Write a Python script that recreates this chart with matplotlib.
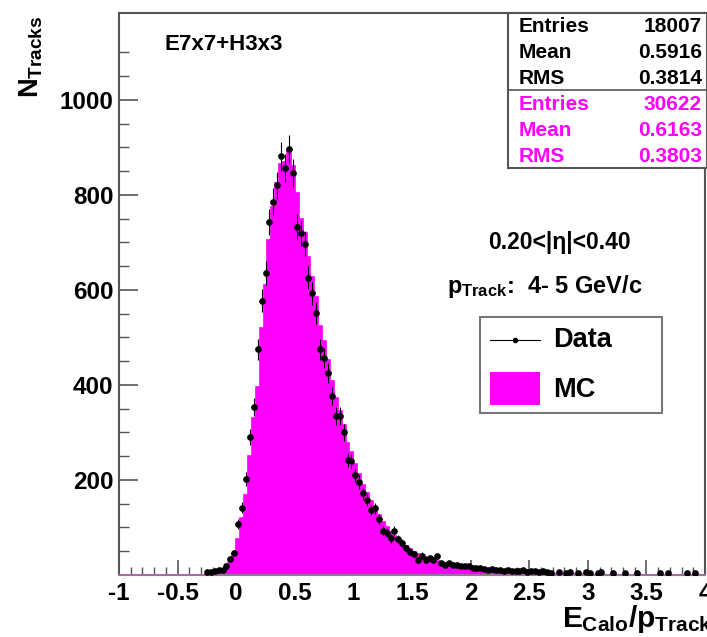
import numpy as np
import matplotlib
matplotlib.use("Agg")
import matplotlib.pyplot as plt
from matplotlib.patches import Rectangle
from matplotlib.lines import Line2D

plt.rcParams['font.family'] = ['Liberation Sans', 'DejaVu Sans']
plt.rcParams['font.weight'] = 'bold'
plt.rcParams['mathtext.fontset'] = 'custom'
plt.rcParams['mathtext.rm'] = 'Liberation Sans:bold'
plt.rcParams['mathtext.it'] = 'Liberation Sans:bold'
plt.rcParams['mathtext.bf'] = 'Liberation Sans:bold'

MAGENTA = '#ff00ff'

# E/p binning: 150 bins from -1 to 4
x_lo, x_hi, n_bins = -1.0, 4.0, 150

data_counts = [
    0, 0, 0, 0, 0, 0, 0, 0, 0, 0,
    0, 0, 0, 0, 0, 0, 0, 0, 0, 0,
    0, 0, 6, 7, 8, 10, 10, 18, 33, 46,
    107, 142, 202, 290, 353, 475, 577, 635, 744, 786,
    820, 881, 856, 896, 846, 732, 719, 697, 626, 593,
    551, 475, 457, 425, 377, 335, 335, 300, 242, 239,
    211, 196, 172, 158, 137, 140, 118, 93, 89, 77,
    93, 75, 67, 56, 49, 44, 32, 41, 32, 35,
    32, 39, 25, 22, 25, 22, 22, 18, 18, 18,
    15, 14, 14, 12, 11, 13, 10, 11, 9, 10,
    8, 9, 8, 10, 7, 9, 8, 7, 9, 6,
    5, 0, 6, 0, 5, 6, 0, 5, 0, 6,
    5, 0, 5, 6, 0, 0, 5, 0, 0, 5,
    0, 0, 5, 0, 0, 0, 0, 0, 5, 0,
    4, 0, 0, 0, 0, 4, 0, 5, 0, 0,
]

# MC scaled to the data entries
mc_counts = [
    0, 0, 0, 0, 0, 0, 0, 0, 0, 0,
    0, 0, 0, 0, 0, 0, 0, 0, 0, 0,
    0, 0, 0, 0, 2, 4, 6, 12, 25, 45,
    75, 120, 168, 250, 330, 395, 520, 610, 705, 775,
    825, 865, 870, 892, 860, 805, 750, 720, 670, 628,
    585, 525, 492, 452, 408, 372, 346, 316, 278, 258,
    234, 212, 190, 172, 155, 141, 126, 112, 100, 90,
    82, 75, 67, 61, 54, 49, 45, 41, 38, 35,
    32, 30, 27, 25, 23, 21, 20, 18, 17, 15,
    14, 13, 12, 11, 10, 9, 9, 8, 8, 7,
    7, 6, 6, 5, 5, 5, 4, 4, 4, 3,
    2, 2, 2, 2, 2, 2, 2, 2, 2, 2,
    1, 1, 1, 1, 1, 1, 1, 1, 1, 1,
    1, 1, 1, 1, 1, 1, 1, 1, 1, 1,
    1, 1, 1, 1, 1, 1, 1, 1, 1, 1,
]

stats_labels = ['Entries', 'Mean', 'RMS']
data_stats = ['18007', '0.5916', '0.3814']
mc_stats = ['30622', '0.6163', '0.3803']

W, H = 707, 637
fig = plt.figure(figsize=(W / 100, H / 100), dpi=100)


def fx(px):
    return px / W


def fy(py):
    return 1 - py / H


ax = fig.add_axes([fx(119), fy(575), fx(705) - fx(119), fy(13) - fy(575)])

edges = np.linspace(x_lo, x_hi, n_bins + 1)
centers = 0.5 * (edges[:-1] + edges[1:])
data = np.array(data_counts, dtype=float)
mc = np.array(mc_counts, dtype=float)

ax.stairs(mc, edges, fill=True, color=MAGENTA, zorder=2)
ax.stairs(mc, edges, color=MAGENTA, lw=1.2, zorder=2)

filled = data > 0
ax.errorbar(centers[filled], data[filled], yerr=np.sqrt(data[filled]),
            fmt='o', color='black', ms=3.8, elinewidth=0.8, capsize=0, zorder=3)

ax.set_xlim(x_lo, x_hi)
ax.set_ylim(0, 1183)

ax.set_xticks(np.arange(-1, 4.01, 0.5))
ax.set_xticklabels(['-1', '-0.5', '0', '0.5', '1', '1.5', '2', '2.5', '3', '3.5', '4'])
ax.set_xticks(np.arange(-1, 4.001, 0.1), minor=True)
ax.set_yticks([200, 400, 600, 800, 1000])
ax.set_yticks(np.arange(50, 1150, 50), minor=True)

ax.tick_params(axis='both', which='both', direction='in', top=False, right=False,
               colors='#555555', labelcolor='black', labelsize=17.5)
ax.tick_params(axis='x', which='major', length=11, width=1.2, pad=5)
ax.tick_params(axis='x', which='minor', length=6, width=1.0)
ax.tick_params(axis='y', which='major', length=14, width=1.2, pad=4)
ax.tick_params(axis='y', which='minor', length=7, width=1.0)
for lab in ax.get_xticklabels() + ax.get_yticklabels():
    lab.set_fontweight('bold')

for side in ['left', 'top', 'right']:
    ax.spines[side].set_color('#555555')
    ax.spines[side].set_linewidth(1.5)
ax.spines['bottom'].set_color('#a070a0')
ax.spines['bottom'].set_linewidth(1.5)

# Axis titles
fig.text(fx(31), fy(16), r'$N_{Tracks}$', rotation=90, ha='center', va='top', fontsize=19.5)
fig.text(fx(712), fy(619), r'$E_{Calo}/p_{Track}$', ha='right', va='center', fontsize=21.5)

# Labels inside the frame
fig.text(fx(165), fy(45), 'E7x7+H3x3', ha='left', va='center', fontsize=16)
fig.text(fx(559), fy(243), '0.20<|η|<0.40', ha='center', va='center', fontsize=16.5)
fig.text(fx(447), fy(286), r'$p_{Track}$:  4- 5 GeV/c', ha='left', va='center', fontsize=17)

# Statistics box
fig.patches.append(Rectangle((fx(508), fy(168)), fx(707) - fx(508), fy(13) - fy(168),
                             transform=fig.transFigure, facecolor='white',
                             edgecolor='#555555', lw=1.5, zorder=5))
fig.lines.append(Line2D([fx(508), fx(707)], [fy(90), fy(90)], transform=fig.transFigure,
                        color='#555555', lw=1.2, zorder=6))
for k in range(3):
    yb = 26 + 26 * k
    ym = 104 + 26 * k
    fig.text(fx(519), fy(yb), stats_labels[k], ha='left', va='center', fontsize=15, zorder=7)
    fig.text(fx(702), fy(yb), data_stats[k], ha='right', va='center', fontsize=15, zorder=7)
    fig.text(fx(519), fy(ym), stats_labels[k], ha='left', va='center', fontsize=15,
             color=MAGENTA, zorder=7)
    fig.text(fx(702), fy(ym), mc_stats[k], ha='right', va='center', fontsize=15,
             color=MAGENTA, zorder=7)

# Legend
fig.patches.append(Rectangle((fx(480), fy(413)), fx(662) - fx(480), fy(317) - fy(413),
                             transform=fig.transFigure, facecolor='white',
                             edgecolor='#777777', lw=1.5, zorder=5))
fig.lines.append(Line2D([fx(490), fx(540)], [fy(340), fy(340)], transform=fig.transFigure,
                        color='black', lw=0.8, zorder=6))
fig.lines.append(Line2D([fx(515)], [fy(340)], transform=fig.transFigure, marker='o',
                        color='black', ms=3, zorder=6))
fig.patches.append(Rectangle((fx(490), fy(405)), fx(540) - fx(490), fy(372) - fy(405),
                             transform=fig.transFigure, facecolor=MAGENTA,
                             edgecolor='none', zorder=6))
fig.text(fx(553), fy(340), 'Data', ha='left', va='center', fontsize=19.5, zorder=7)
fig.text(fx(553), fy(390), 'MC', ha='left', va='center', fontsize=19.5, zorder=7)

fig.savefig('out.png', dpi=100, facecolor='white')
